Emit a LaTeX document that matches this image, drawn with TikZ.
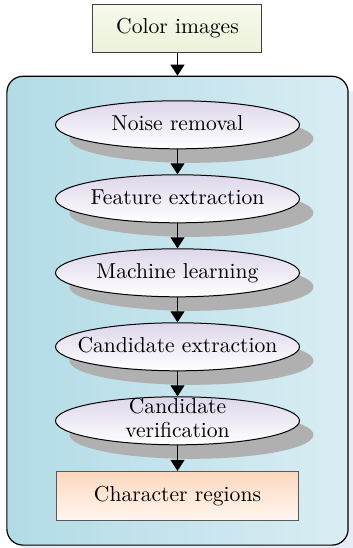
\documentclass[tikz,border=0pt]{standalone}
\usepackage{fontspec}
\usetikzlibrary{positioning,arrows.meta,shapes.geometric,shadows,fit,backgrounds}

\definecolor{frameleft}{RGB}{178,219,230}
\definecolor{frameright}{RGB}{217,237,243}
\definecolor{frameshadow}{RGB}{231,235,245}
\definecolor{stagetop}{RGB}{221,214,234}
\definecolor{stageshadow}{RGB}{176,176,176}
\definecolor{inputtop}{RGB}{246,249,236}
\definecolor{inputbottom}{RGB}{236,242,218}
\definecolor{outtop}{RGB}{252,216,190}
\definecolor{outbottom}{RGB}{255,246,240}

% keep the ellipses at one size, whatever the text
\newcommand{\stagelabel}[1]{\makebox[0pt][c]{#1}}

\begin{document}
\begin{tikzpicture}[
    x=0.5pt, y=-0.5pt,
    >={Triangle[length=5.5pt,width=7pt]},
    node distance=12.5pt,
    font=\fontsize{10.8}{12.6}\selectfont,
    stage/.style={ellipse, draw, line width=0.5pt, minimum width=122pt, minimum height=24pt,
        inner sep=0pt, top color=stagetop, bottom color=white, text height=1.6ex, text depth=.3ex,
        drop shadow={shadow xshift=7pt, shadow yshift=-7pt, fill=stageshadow, opacity=1}},
    inputbox/.style={rectangle, draw=black!75, line width=0.5pt, minimum width=84.5pt,
        minimum height=24.3pt, inner sep=0pt, top color=inputtop, bottom color=inputbottom},
    outputbox/.style={rectangle, draw=black!65, line width=0.6pt, minimum width=121pt,
        minimum height=24.5pt, inner sep=0pt, top color=outtop, bottom color=outbottom},
    frame/.style={rectangle, draw, line width=0.6pt, rounded corners=8pt,
        left color=frameleft, right color=frameright,
        drop shadow={shadow xshift=7.5pt, shadow yshift=-7pt, fill=frameshadow, opacity=1}},
    flow/.style={->, line width=0.5pt}
]
\useasboundingbox (0,0) rectangle (353,548);

\node[inputbox] (input) at (177.5,28.3) {Color images};
\node[stage, below=23.6pt of input] (noise) {\stagelabel{Noise removal}};
\node[stage, below=of noise] (feature) {\stagelabel{Feature extraction}};
\node[stage, below=of feature] (learning) {\stagelabel{Machine learning}};
\node[stage, below=of learning] (candext) {\stagelabel{Candidate extraction}};
\node[stage, below=of candext] (candver)
    {\stagelabel{\smash{\renewcommand\arraystretch{0.95}\begin{tabular}{@{}c@{}}Candidate\\verification\end{tabular}}}};
\node[outputbox, below=12.8pt of candver] (output) {Character regions};

\begin{scope}[on background layer]
\node[frame, fit=(noise.north)(output.south west)(output.north east),
    inner xsep=24.5pt, inner ysep=12pt] (pipeline) {};
\end{scope}

\draw[flow] (input) -- (pipeline);
\draw[flow] (noise) -- (feature);
\draw[flow] (feature) -- (learning);
\draw[flow] (learning) -- (candext);
\draw[flow] (candext) -- (candver);
\draw[flow] (candver) -- (output);

\end{tikzpicture}
\end{document}
